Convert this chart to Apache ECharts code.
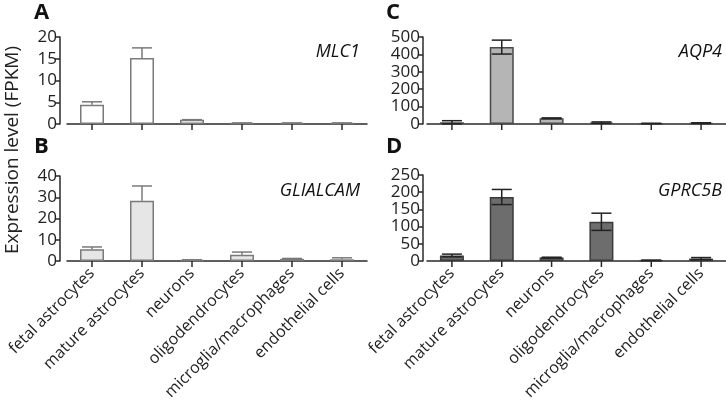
<!DOCTYPE html>
<html>
<head lang="en">
    <meta charset="UTF-8">
    <title>Expression level</title>
    <style>
        html, body { margin: 0; padding: 0; background: #fff; }
    </style>
</head>
<body>
<div id="chart" style="width: 726px;height: 404px;"></div>
<script src="https://cdn.jsdelivr.net/npm/echarts@6/dist/echarts.min.js"></script>
<script>
// cell types (shared x axis)
var cellTypes = ['fetal astrocytes', 'mature astrocytes', 'neurons', 'oligodendrocytes', 'microglia/macrophages', 'endothelial cells'];

// panel values (FPKM) with error sizes
var mlc1 = [4.4, 15.2, 1.0, 0.2, 0.2, 0.2];
var mlc1Err = [0.7, 2.3, 0, 0.05, 0.05, 0.05];
var glialcam = [5.5, 28.3, 0.5, 3.0, 1.0, 0.8];
var glialcamErr = [1.1, 7.0, 0.1, 1.2, 0.2, 0.7];
var aqp4 = [10, 442, 33, 8, 3, 5];
var aqp4Err = [9, 40, 2, 4, 1, 2];
var gprc5b = [16, 186, 10, 114, 2, 7];
var gprc5bErr = [4, 22, 1, 25, 0.5, 3];

// y axis maxima / intervals
var yMax = [20, 40, 500, 250];
var yStep = [5, 10, 100, 50];

var FONT = 'Open Sans';
var AXIS = '#2a2a2a';
var myChart = echarts.init(document.getElementById('chart'));

// error bars: both whiskers when showLow, else upper only
function makeErr(vals, errs) {
    return vals.map(function (v, i) {
        return [i, v - errs[i], v + errs[i], v];
    });
}
function errRender(showLow) {
    return function (params, api) {
        var i = api.value(0);
        var top = api.coord([i, api.value(2)]);
        var low = api.coord([i, showLow ? api.value(1) : api.value(3)]);
        var hw = 10;
        var st = api.style({ stroke: api.visual('color'), lineWidth: 1.5, fill: null });
        var kids = [
            { type: 'line', shape: { x1: top[0], y1: top[1], x2: low[0], y2: low[1] }, style: st },
            { type: 'line', shape: { x1: top[0] - hw, y1: top[1], x2: top[0] + hw, y2: top[1] }, style: st }
        ];
        if (showLow) {
            kids.push({ type: 'line', shape: { x1: low[0] - hw, y1: low[1], x2: low[0] + hw, y2: low[1] }, style: st });
        }
        return { type: 'group', children: kids };
    };
}
// tick marks under each category (centre of the band)
function tickRender(params, api) {
    var p = api.coord([api.value(0), 0]);
    return {
        type: 'line',
        shape: { x1: p[0], y1: p[1], x2: p[0], y2: p[1] + 6 },
        style: { stroke: AXIS, lineWidth: 1.5 }
    };
}

// grids: A, B, C, D
var grids = [
    { left: 67, top: 37, width: 300, height: 87 },
    { left: 67, top: 176, width: 300, height: 85 },
    { left: 427, top: 37, width: 299, height: 87 },
    { left: 427, top: 175, width: 299, height: 86 }
];
var yOffsets = [7, 7, 4, 4];

var xAxes = [], yAxes = [];
for (var g = 0; g < 4; g++) {
    var showLabels = (g == 1 || g == 3);
    xAxes.push({
        type: 'category',
        gridIndex: g,
        data: cellTypes,
        axisLine: { lineStyle: { color: AXIS, width: 1.5 } },
        axisTick: { show: false },
        axisLabel: {
            show: showLabels,
            rotate: 45,
            interval: 0,
            margin: 10,
            color: '#222',
            fontFamily: FONT,
            fontSize: 16
        }
    });
    yAxes.push({
        type: 'value',
        gridIndex: g,
        min: 0,
        max: yMax[g],
        interval: yStep[g],
        offset: yOffsets[g],
        splitLine: { show: false },
        axisLine: { show: true, lineStyle: { color: AXIS, width: 1.5 } },
        axisTick: { show: true, length: 5, lineStyle: { color: AXIS, width: 1.5 } },
        axisLabel: {
            margin: 3, color: '#222', fontFamily: FONT, fontSize: 17,
            lineHeight: 12, hideOverlap: false, showMinLabel: true, showMaxLabel: true
        }
    });
}

var panels = [
    { vals: mlc1, errs: mlc1Err, fill: '#ffffff', border: '#7a7a7a', errColor: '#7a7a7a', low: false },
    { vals: glialcam, errs: glialcamErr, fill: '#e6e6e6', border: '#7a7a7a', errColor: '#7a7a7a', low: false },
    { vals: aqp4, errs: aqp4Err, fill: '#b5b5b5', border: '#4a4a4a', errColor: '#222222', low: true },
    { vals: gprc5b, errs: gprc5bErr, fill: '#6d6d6d', border: '#3a3a3a', errColor: '#222222', low: true }
];

var series = [];
panels.forEach(function (p, g) {
    series.push({
        type: 'bar',
        xAxisIndex: g,
        yAxisIndex: g,
        data: p.vals,
        barWidth: 24,
        itemStyle: { color: p.fill, borderColor: p.border, borderWidth: 1.5 },
        silent: true,
        z: 2
    });
    series.push({
        type: 'custom',
        xAxisIndex: g,
        yAxisIndex: g,
        data: makeErr(p.vals, p.errs),
        renderItem: errRender(p.low),
        itemStyle: { color: p.errColor },
        silent: true,
        z: 3
    });
    series.push({
        type: 'custom',
        xAxisIndex: g,
        yAxisIndex: g,
        data: cellTypes.map(function (c, i) { return [i, 0]; }),
        renderItem: tickRender,
        clip: false,
        silent: true,
        z: 3
    });
});

function txt(x, y, s, font, align) {
    return {
        type: 'text', x: x, y: y,
        style: { text: s, font: font, fill: '#111', textAlign: align || 'left', textVerticalAlign: 'middle' }
    };
}

var option = {
    animation: false,
    backgroundColor: '#fff',
    grid: grids,
    xAxis: xAxes,
    yAxis: yAxes,
    series: series,
    graphic: [
        txt(34, 13, 'A', 'bold 22px "' + FONT + '"'),
        txt(34, 147, 'B', 'bold 22px "' + FONT + '"'),
        txt(386, 13, 'C', 'bold 22px "' + FONT + '"'),
        txt(386, 147, 'D', 'bold 22px "' + FONT + '"'),
        txt(360, 52, 'MLC1', 'italic 18px "' + FONT + '"', 'right'),
        txt(360, 191, 'GLIALCAM', 'italic 18px "' + FONT + '"', 'right'),
        txt(722, 52, 'AQP4', 'italic 18px "' + FONT + '"', 'right'),
        txt(722, 191, 'GPRC5B', 'italic 18px "' + FONT + '"', 'right'),
        {
            type: 'text', x: 13, y: 150, rotation: Math.PI / 2,
            style: { text: 'Expression level (FPKM)', font: '19px "' + FONT + '"', fill: '#222', textAlign: 'center', textVerticalAlign: 'middle' }
        }
    ]
};
myChart.setOption(option);
</script>
</body>
</html>
